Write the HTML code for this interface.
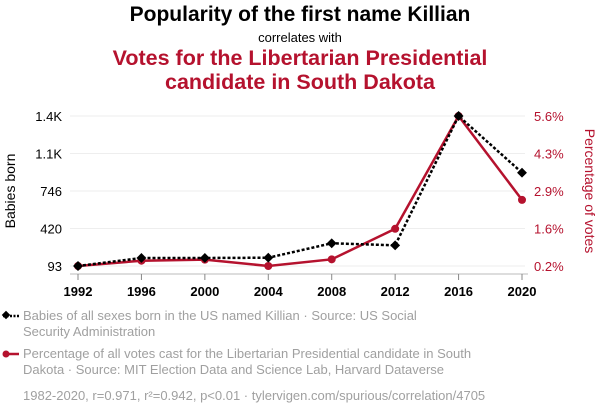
<!DOCTYPE html>
<html><head><meta charset="utf-8"><style>
body{margin:0;background:#fff;font-family:"Liberation Sans",sans-serif}
</style></head><body>
<svg width="600" height="414" xmlns="http://www.w3.org/2000/svg" font-family="Liberation Sans, sans-serif">
<text x="300" y="21" text-anchor="middle" font-size="21" font-weight="bold" fill="#000">Popularity of the first name Killian</text>
<text x="300" y="42" text-anchor="middle" font-size="13" fill="#000">correlates with</text>
<text x="300" y="65" text-anchor="middle" font-size="21.5" font-weight="bold" fill="#b5122e">Votes for the Libertarian Presidential</text>
<text x="300" y="89" text-anchor="middle" font-size="21.5" font-weight="bold" fill="#b5122e">candidate in South Dakota</text>
<g id="grid"></g><g id="axes"></g><g id="marks"></g>
<text transform="translate(15,191) rotate(-90)" text-anchor="middle" font-size="14" fill="#000">Babies born</text>
<text transform="translate(585,191) rotate(90)" text-anchor="middle" font-size="14" fill="#b5122e">Percentage of votes</text>
<g>
<line x1="3" y1="316" x2="19" y2="316" stroke="#000" stroke-width="2.5" stroke-dasharray="2,1.5"/>
<rect x="3" y="312" width="6" height="6" transform="rotate(45 6 315)" fill="#000"/>
<text x="23" y="320" font-size="13" fill="#a0a0a0">Babies of all sexes born in the US named Killian · Source: US Social</text>
<text x="23" y="336" font-size="13" fill="#a0a0a0">Security Administration</text></g>
<g>
<line x1="3" y1="354" x2="19" y2="354" stroke="#b5122e" stroke-width="2.5"/>
<circle cx="6" cy="354" r="3.5" fill="#b5122e"/>
<text x="23" y="358" font-size="13" fill="#a0a0a0">Percentage of all votes cast for the Libertarian Presidential candidate in South</text>
<text x="23" y="374" font-size="13" fill="#a0a0a0">Dakota · Source: MIT Election Data and Science Lab, Harvard Dataverse</text></g>
<text x="23" y="400" font-size="13" fill="#a0a0a0">1982-2020, r=0.971, r²=0.942, p&lt;0.01 · tylervigen.com/spurious/correlation/4705</text>
</svg>
<script>
const years=[1992,1996,2000,2004,2008,2012,2016,2020];
const babies=[93,163,163,165,291,273,1400,906];
const votes=[0.2,0.39,0.43,0.2,0.44,1.54,5.6,2.58];
const leftTickVals=[93,420,746,1073,1400];
const leftTickLabels=["93","420","746","1.1K","1.4K"];
const rightTickVals=[0.2,1.55,2.9,4.25,5.6];
const rightTickLabels=["0.2%","1.6%","2.9%","4.3%","5.6%"];
const NS="http://www.w3.org/2000/svg";
const x=y=>78+(y-1992)/28*444;
const yL=v=>266-(v-93)/1307*150;
const yR=v=>266-(v-0.2)/5.4*150;
function mk(t,a,p){const e=document.createElementNS(NS,t);for(const k in a)e.setAttribute(k,a[k]);p.appendChild(e);return e;}
const grid=document.getElementById('grid'),axes=document.getElementById('axes'),marks=document.getElementById('marks');
leftTickVals.forEach((v,i)=>{
const g=mk('line',{x1:70,x2:525,y1:yL(v),y2:yL(v),stroke:'#eee','stroke-width':1},grid);


const t=mk('text',{x:62,y:yL(v)+5,'text-anchor':'end','font-size':13,fill:'#000'},axes);
t.textContent=leftTickLabels[i];


});
rightTickVals.forEach((v,i)=>{
const t=mk('text',{x:534,y:yR(v)+5,'font-size':13,fill:'#b5122e'},axes);
t.textContent=rightTickLabels[i];


});
mk('line',{x1:70,x2:528,y1:274,y2:274,stroke:'#bbb'},axes);
years.forEach(yr=>{
mk('line',{x1:x(yr),x2:x(yr),y1:274,y2:280,stroke:'#888'},axes);
const t=mk('text',{x:x(yr),y:296,'text-anchor':'middle','font-size':13,'font-weight':'bold',fill:'#000'},axes);
t.textContent=yr;


});
const rl=mk('polyline',{points:years.map((yr,i)=>x(yr)+','+yR(votes[i])).join(' '),fill:'none',stroke:'#b5122e','stroke-width':2.5},marks);


const bl=mk('polyline',{points:years.map((yr,i)=>x(yr)+','+yL(babies[i])).join(' '),fill:'none',stroke:'#000','stroke-width':2.5,'stroke-dasharray':'3,2'},marks);


years.forEach((yr,i)=>{
const c=mk('circle',{cx:x(yr),cy:yR(votes[i]),r:4,fill:'#b5122e'},marks);


const px=x(yr),py=yL(babies[i]);
const d=mk('rect',{x:px-3.5,y:py-3.5,width:7,height:7,fill:'#000',transform:`rotate(45 ${px} ${py})`},marks);


});
</script>
</body></html>
